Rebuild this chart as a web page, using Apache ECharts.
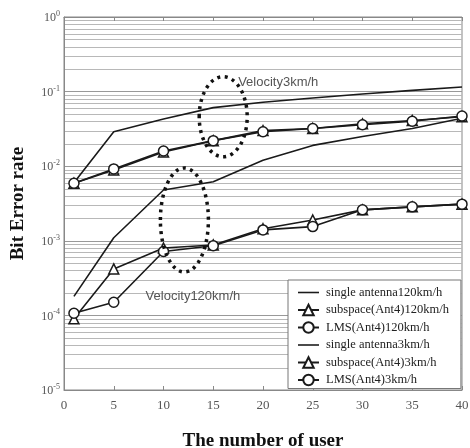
<!DOCTYPE html>
<html><head><meta charset="utf-8">
<script src="https://cdn.jsdelivr.net/npm/echarts@6/dist/echarts.min.js"></script>
<style>html,body{margin:0;padding:0;background:#fff}#c{width:470px;height:448px}</style>
</head><body><div id="c"></div>
<script>
const users = [1, 5, 10, 15, 20, 25, 30, 35, 40];
const seriesNames = ['single antenna120km/h','subspace(Ant4)120km/h','LMS(Ant4)120km/h','single antenna3km/h','subspace(Ant4)3km/h','LMS(Ant4)3km/h'];
// lower group (Velocity120km/h)
const single120 = [1.8e-4, 1.1e-3, 4.8e-3, 6.2e-3, 0.012, 0.019, 0.025, 0.032, 0.044];
const subspace120 = [9e-5, 4.2e-4, 8.0e-4, 8.8e-4, 1.45e-3, 1.9e-3, 2.6e-3, 2.85e-3, 3.1e-3];
const lms120 = [1.07e-4, 1.5e-4, 7.2e-4, 8.6e-4, 1.4e-3, 1.55e-3, 2.6e-3, 2.85e-3, 3.1e-3];
// upper group (Velocity3km/h)
const single3 = [0.006, 0.029, 0.043, 0.061, 0.072, 0.082, 0.093, 0.104, 0.115];
const subspace3 = [0.0059, 0.0089, 0.0155, 0.022, 0.030, 0.032, 0.037, 0.041, 0.046];
const lms3 = [0.0059, 0.0092, 0.016, 0.022, 0.029, 0.032, 0.036, 0.040, 0.047];
const xTicks = [0, 5, 10, 15, 20, 25, 30, 35, 40];
const yDecades = [-5, -4, -3, -2, -1, 0];
const notes = [
  {text: 'Velocity3km/h', x: 16.0, y: 0.046, rx: 24, ry: 40, tx: 17.5, ty: 0.134},
  {text: 'Velocity120km/h', x: 12.1, y: 1.9e-3, rx: 24, ry: 52, tx: 8.2, ty: 1.82e-4}
];

const pair = arr => arr.map((v, i) => [users[i], v]);
const minorVals = [];
for (let n = -5; n < 0; n++) for (let k = 2; k <= 9; k++) minorVals.push(k * Math.pow(10, n));

const lineCol = '#1a1a1a';
function mk(name, data, symbol) {
  return {
    name, type: 'line', data: pair(data), symbol: symbol || 'none', symbolSize: 10,
    showSymbol: !!symbol,
    lineStyle: {color: lineCol, width: 1.6},
    itemStyle: {color: '#fff', borderColor: lineCol, borderWidth: 1.5},
    z: 3, animation: false
  };
}
const serif = 'Liberation Serif';
const lineIcon = 'path://M0,0 L40,0 L40,3 L0,3 Z';
const chart = echarts.init(document.getElementById('c'), null, {renderer: 'canvas'});
const option = {
  backgroundColor: '#fff',
  animation: false,
  grid: {left: 64, right: 8, top: 17, bottom: 58, show: true, borderColor: '#888', borderWidth: 1, outerBoundsMode: 'none', containLabel: false},
  legend: {
    orient: 'vertical', left: 288, top: 280,
    data: seriesNames.map((n, i) => (i % 3 === 0 ? {name: n, icon: lineIcon, itemStyle: {color: lineCol, borderWidth: 0}} : {name: n})),
    itemWidth: 21, itemHeight: 13, itemGap: 4.5,
    padding: [6, 12, 2, 9],
    backgroundColor: '#fff', borderColor: '#777', borderWidth: 1,
    textStyle: {fontFamily: serif, fontSize: 12.5, color: '#222', padding: [0, 0, 0, 2]},
    z: 10
  },
  xAxis: [{
    type: 'value', min: 0, max: 40, interval: 5,
    name: 'The number of user', nameLocation: 'middle', nameGap: 42,
    nameTextStyle: {fontFamily: serif, fontSize: 19, fontWeight: 'bold', color: '#111'},
    axisLine: {show: true, lineStyle: {color: '#888'}},
    axisTick: {show: true, inside: true, length: 4, lineStyle: {color: '#888'}},
    axisLabel: {fontFamily: serif, fontSize: 13, color: '#555', margin: 9,
      formatter: v => xTicks.includes(v) ? String(v) : ''},
    splitLine: {show: false}
  }, {
    type: 'value', min: 0, max: 40, interval: 5, position: 'top',
    axisLine: {show: true, lineStyle: {color: '#888'}},
    axisTick: {show: true, inside: true, length: 4, lineStyle: {color: '#888'}},
    axisLabel: {show: false}, splitLine: {show: false}
  }],
  yAxis: {
    type: 'log', logBase: 10, min: 1e-5, max: 1,
    name: 'Bit Error rate', nameLocation: 'middle', nameGap: 36,
    nameTextStyle: {fontFamily: serif, fontSize: 19, fontWeight: 'bold', color: '#111'},
    axisLine: {show: true, lineStyle: {color: '#888'}},
    axisTick: {show: false},
    axisLabel: {
      margin: 4, color: '#555',
      formatter: v => {
        const e = Math.round(Math.log10(v));
        if (!yDecades.includes(e)) return '';
        return '{b|10}{s|' + e + '}';
      },
      rich: {
        b: {fontFamily: serif, fontSize: 12, color: '#555', lineHeight: 14, verticalAlign: 'bottom'},
        s: {fontFamily: serif, fontSize: 8, color: '#555', lineHeight: 8, verticalAlign: 'top'}
      }
    },
    splitLine: {show: true, lineStyle: {color: '#999', width: 1}}
  },
  series: [
    mk(seriesNames[0], single120),
    mk(seriesNames[1], subspace120, 'triangle'),
    mk(seriesNames[2], lms120, 'circle'),
    mk(seriesNames[3], single3),
    mk(seriesNames[4], subspace3, 'triangle'),
    mk(seriesNames[5], lms3, 'circle')
  ]
};
chart.setOption(option);
const g = [];
const x0 = chart.convertToPixel({seriesIndex: 0}, [0, 1e-3])[0];
const x1 = chart.convertToPixel({seriesIndex: 0}, [40, 1e-3])[0];
minorVals.forEach(v => {
  const y = Math.round(chart.convertToPixel({seriesIndex: 0}, [0, v])[1]) + 0.5;
  g.push({type: 'line', z: 0, silent: true, shape: {x1: x0, y1: y, x2: x1, y2: y},
    style: {stroke: '#b8b8b8', lineWidth: 1}});
});
notes.forEach(n => {
  const c = chart.convertToPixel({seriesIndex: 0}, [n.x, n.y]);
  const t = chart.convertToPixel({seriesIndex: 0}, [n.tx, n.ty]);
  g.push({type: 'ellipse', shape: {cx: c[0], cy: c[1], rx: n.rx, ry: n.ry}, z: 20,
    style: {fill: 'none', stroke: '#111', lineWidth: 3.5, lineDash: [3, 4.5]}});
  g.push({type: 'text', x: t[0], y: t[1], z: 21,
    style: {text: n.text, fill: '#555', font: '13px "Liberation Sans", Arial, sans-serif', textVerticalAlign: 'middle'}});
});
chart.setOption({graphic: g});
</script></body></html>
